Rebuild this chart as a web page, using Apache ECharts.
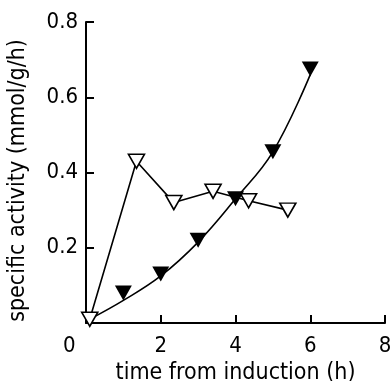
<!DOCTYPE html>
<html>
<head>
<meta charset="utf-8">
<script src="https://cdn.jsdelivr.net/npm/echarts@6/dist/echarts.min.js"></script>
<style>
  html, body { margin: 0; padding: 0; background: #fff; }
  #chart { width: 391px; height: 381px; }
</style>
</head>
<body>
<div id="chart"></div>
<script>
// open triangles (measured activity, joined by straight lines)
const openX = [0.1, 1.35, 2.35, 3.4, 4.35, 5.4];
const openY = [0.01, 0.43, 0.32, 0.35, 0.325, 0.30];
// filled triangles
const filledX = [1.0, 2.0, 3.0, 4.0, 5.0, 6.0];
const filledY = [0.08, 0.13, 0.22, 0.33, 0.455, 0.675];
// hand-drawn smooth curve through the filled points
const curveX = [0.1, 1.0, 2.0, 3.0, 4.0, 5.0, 6.0];
const curveY = [0.01, 0.06, 0.125, 0.215, 0.33, 0.455, 0.66];

const xTicks = [0, 8, 2];
const yTicks = [0, 0.8, 0.2];

const font = '"DejaVu Sans Condensed", "Liberation Sans Narrow", sans-serif';
const zip = (xs, ys) => xs.map((x, i) => [x, ys[i]]);

const chart = echarts.init(document.getElementById('chart'));
chart.setOption({
  animation: false,
  grid: { left: 86, right: 6, top: 22, bottom: 58, outerBoundsMode: 'none', containLabel: false },
  xAxis: {
    type: 'value',
    min: xTicks[0], max: xTicks[1], interval: xTicks[2],
    name: 'time from induction (h)',
    nameLocation: 'middle',
    nameGap: 36,
    nameTextStyle: { fontFamily: font, fontSize: 23, color: '#000' },
    axisLine: { show: true, lineStyle: { color: '#000', width: 2 } },
    axisTick: { show: true, inside: true, length: 8, lineStyle: { color: '#000', width: 2 } },
    axisLabel: {
      fontFamily: font, fontSize: 22, color: '#000', margin: 12,
      formatter: v => (v === 0 ? '' : String(v))
    },
    splitLine: { show: false }
  },
  yAxis: {
    type: 'value',
    min: yTicks[0], max: yTicks[1], interval: yTicks[2],
    name: 'specific activity (mmol/g/h)',
    nameLocation: 'middle',
    nameGap: 56,
    nameTextStyle: { fontFamily: font, fontSize: 23, color: '#000', padding: [0, 0, 0, -16] },
    axisLine: { show: true, lineStyle: { color: '#000', width: 2 } },
    axisTick: { show: true, inside: true, length: 8, lineStyle: { color: '#000', width: 2 } },
    axisLabel: {
      fontFamily: font, fontSize: 22, color: '#000', margin: 8,
      formatter: v => (v === 0 ? '' : v.toFixed(1))
    },
    splitLine: { show: false }
  },
  graphic: [{
    type: 'text',
    left: 63, top: 335,
    style: { text: '0', font: '22px ' + font, fill: '#000' }
  }],
  series: [
    {
      type: 'line',
      data: zip(curveX, curveY),
      smooth: 0.4,
      showSymbol: false,
      lineStyle: { color: '#000', width: 1.6 },
      z: 2
    },
    {
      type: 'line',
      data: zip(openX, openY),
      symbol: 'triangle',
      symbolRotate: 180,
      symbolSize: [16, 14],
      showAllSymbol: true,
      lineStyle: { color: '#000', width: 1.6 },
      itemStyle: { color: '#fff', borderColor: '#000', borderWidth: 1.6 },
      z: 3
    },
    {
      type: 'scatter',
      data: zip(filledX, filledY),
      symbol: 'triangle',
      symbolRotate: 180,
      symbolSize: [17, 15],
      itemStyle: { color: '#000', opacity: 1 },
      z: 4
    }
  ]
});
</script>
</body>
</html>
